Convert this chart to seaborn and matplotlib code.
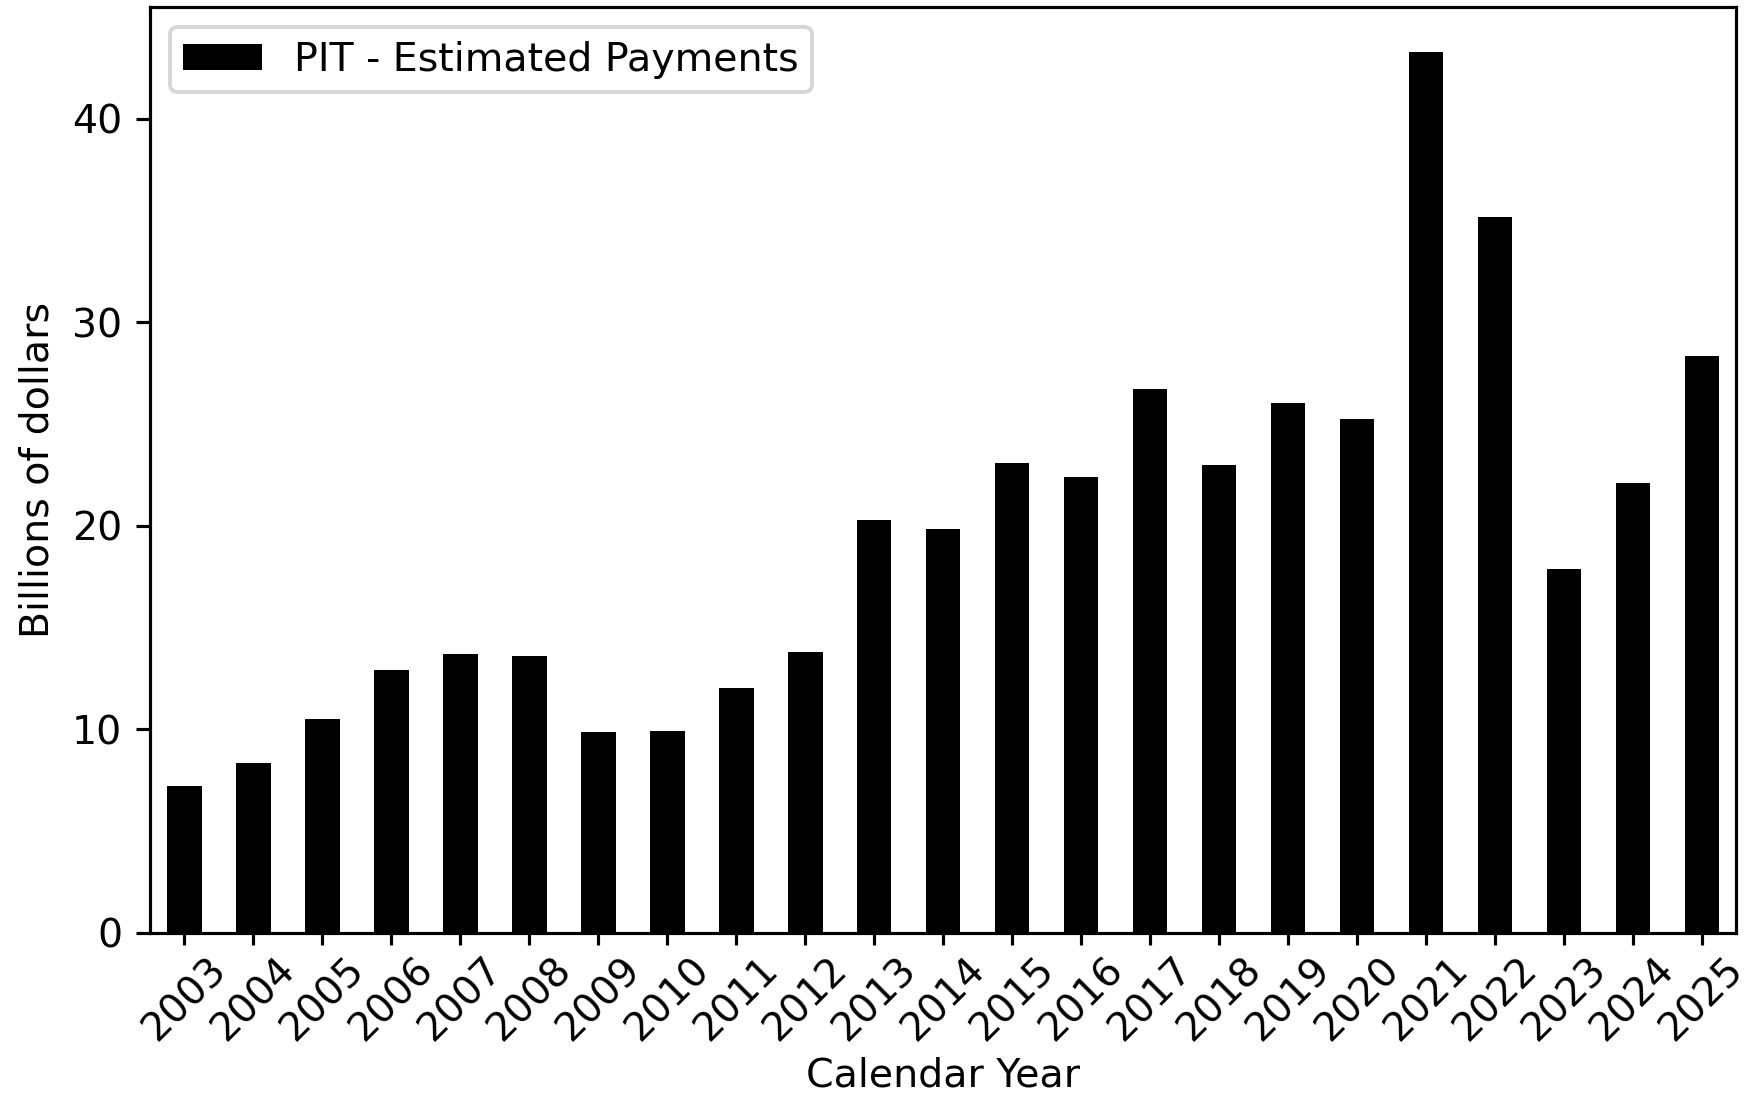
import matplotlib
matplotlib.use("Agg")
import matplotlib.pyplot as plt
import seaborn as sns
import pandas as pd

# valores (bilhões de dólares)
years = [str(y) for y in range(2003, 2026)]
payments = [7.2, 8.35, 10.5, 12.9, 13.7, 13.6, 9.85, 9.9, 12.05, 13.8,
            20.3, 19.85, 23.1, 22.4, 26.7, 23.0, 26.05, 25.25, 43.3, 35.2,
            17.9, 22.1, 28.35]
series_label = 'PIT - Estimated Payments'

df = pd.DataFrame({'Calendar Year': years, 'Payments': payments})

plt.rcParams['font.family'] = ['DejaVu Sans']
DPI = 284
fig, ax = plt.subplots(figsize=(1754 / DPI, 1096 / DPI), dpi=DPI)

sns.barplot(data=df, x='Calendar Year', y='Payments', color='black',
            saturation=1, width=0.5, label=series_label, ax=ax)

ax.set_xlim(-0.5, len(years) - 0.5)
ax.set_ylim(0, 45.5)
ax.set_yticks([0, 10, 20, 30, 40])
ax.tick_params(axis='x', rotation=45, length=3, pad=1.5)
ax.set_xlabel('Calendar Year', labelpad=2)
ax.set_ylabel('Billions of dollars')
ax.legend(loc='upper left', borderpad=0.35, handleheight=0.65)

fig.subplots_adjust(left=0.0855, right=0.990, bottom=0.149, top=0.9936)
fig.savefig('out.png', dpi=DPI)
